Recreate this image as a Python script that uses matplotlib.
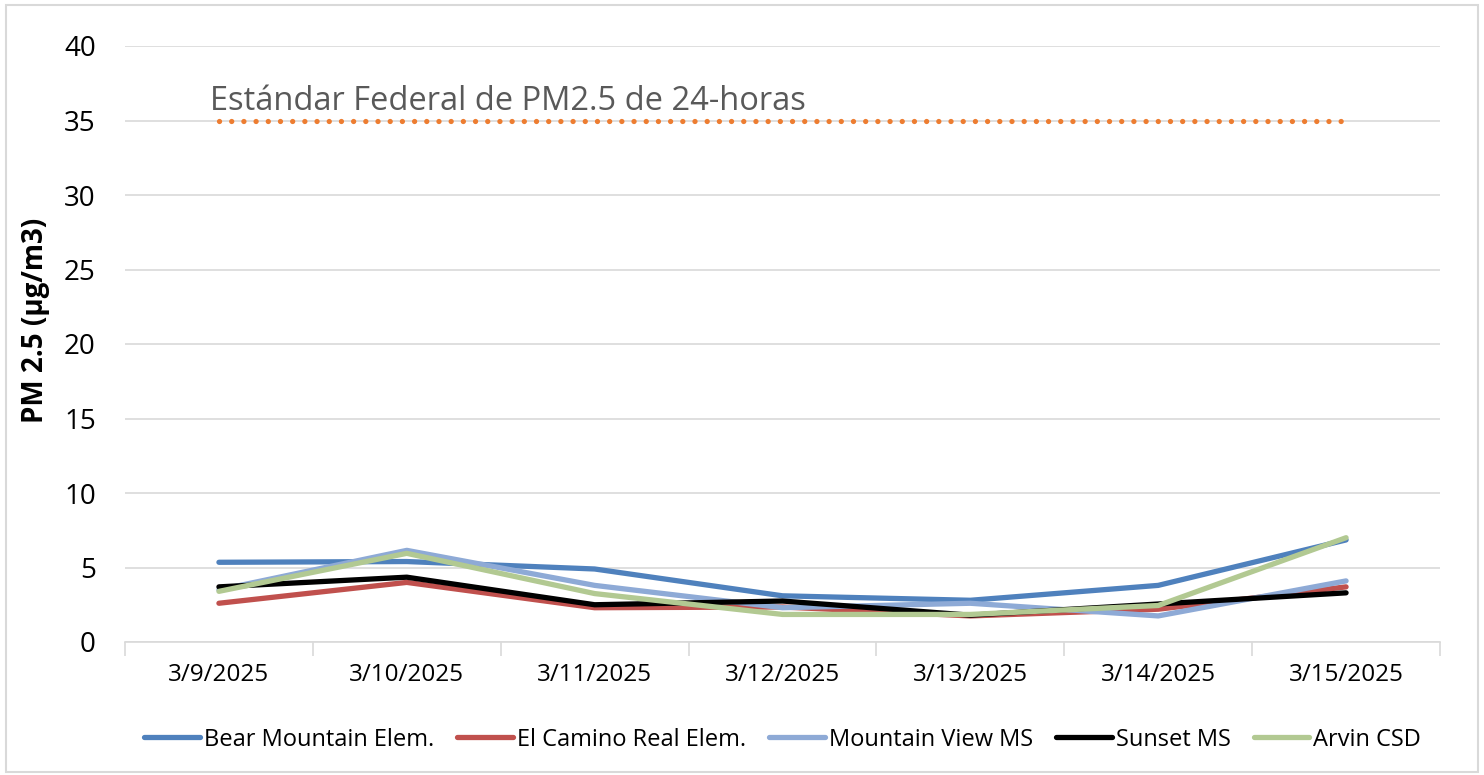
import matplotlib.pyplot as plt
from matplotlib.patches import Rectangle

dates = ["3/9/2025", "3/10/2025", "3/11/2025", "3/12/2025", "3/13/2025", "3/14/2025", "3/15/2025"]
bear_mountain = [5.35, 5.4, 4.9, 3.1, 2.8, 3.8, 6.85]
el_camino = [2.6, 4.0, 2.3, 2.35, 1.75, 2.2, 3.7]
mountain_view = [3.5, 6.15, 3.8, 2.3, 2.6, 1.75, 4.1]
sunset = [3.7, 4.35, 2.5, 2.75, 1.8, 2.55, 3.3]
arvin = [3.4, 5.95, 3.25, 1.85, 1.85, 2.45, 7.0]
standard = [35] * len(dates)

series = [
    ("Bear Mountain Elem.", bear_mountain, "#4f81bd"),
    ("El Camino Real Elem.", el_camino, "#c0504d"),
    ("Mountain View MS", mountain_view, "#8eaad6"),
    ("Sunset MS", sunset, "#000000"),
    ("Arvin CSD", arvin, "#b2c992"),
]

plt.rcParams['font.family'] = ['Open Sans', 'DejaVu Sans']

fig = plt.figure(figsize=(14.84, 7.75), dpi=100)
ax = fig.add_axes([125 / 1484, 1 - 642 / 775, (1440 - 125) / 1484, (642 - 46) / 775])

x = list(range(len(dates)))
ax.plot(x, standard, color="#ed7d31", linewidth=3.8, linestyle=(0, (0.01, 2.3)),
        dash_capstyle="round", zorder=2)
for name, vals, col in series:
    ax.plot(x, vals, color=col, linewidth=3.8, label=name, solid_capstyle="round", zorder=3)

ax.text(-0.05, 35.7, "Estándar Federal de PM2.5 de 24-horas", fontsize=23.5, color="#595959",
        ha="left", va="baseline")

ax.set_xlim(-0.5, len(dates) - 0.5)
ax.set_ylim(0, 40)
ax.set_yticks(range(0, 41, 5))
ax.tick_params(axis="y", length=0, labelsize=20, pad=21)
ax.set_xticks(x)
ax.set_xticklabels(dates)
ax.tick_params(axis="x", length=0, labelsize=17.5, pad=15)
ax.set_xticks([i - 0.5 for i in range(len(dates) + 1)], minor=True)
ax.tick_params(axis="x", which="minor", length=10, width=1.2, color="#d9d9d9", direction="out")
ax.grid(axis="y", color="#d9d9d9", linewidth=1.2)
ax.set_axisbelow(True)
for s in ["top", "right", "left"]:
    ax.spines[s].set_visible(False)
ax.spines["bottom"].set_color("#d9d9d9")
ax.spines["bottom"].set_linewidth(1.2)
ax.set_ylabel("PM 2.5 (µg/m3)", fontsize=20, fontweight="bold", va="center")
ax.yaxis.set_label_coords(-89 / 1315, (642 - 320) / 596)

ax.legend(loc="center", bbox_to_anchor=(0.5, -0.164), ncol=5, frameon=False, fontsize=17,
          handlelength=2.37, columnspacing=0.97, handletextpad=0.17)

fig.patches.append(Rectangle((0.004, 0.004), 0.992, 0.99, transform=fig.transFigure,
                             fill=False, edgecolor="#d9d9d9", linewidth=1.5))

fig.savefig("out.png", dpi=100)
